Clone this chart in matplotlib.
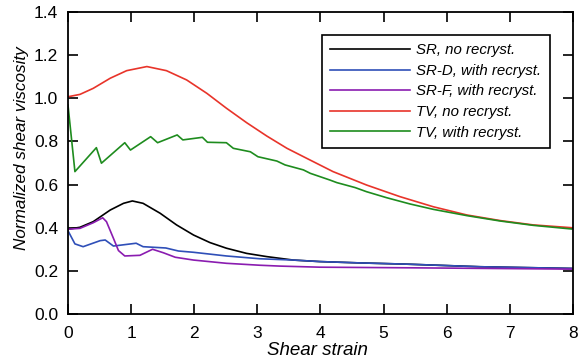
import matplotlib
matplotlib.use("Agg")
import matplotlib.pyplot as plt
import numpy as np

plt.rcParams['font.family'] = ['Liberation Sans', 'DejaVu Sans']

sr_x = [0, 0.19, 0.40, 0.67, 0.88, 1.02, 1.19, 1.46, 1.72, 1.99, 2.25, 2.51, 2.83, 3.15, 3.57, 3.99, 4.6, 5.37, 6.53, 8.0]
sr_y = [0.393, 0.402, 0.428, 0.482, 0.513, 0.524, 0.513, 0.467, 0.413, 0.366, 0.331, 0.305, 0.281, 0.266, 0.25, 0.243, 0.237, 0.231, 0.219, 0.211]

srd_x = [0, 0.11, 0.24, 0.51, 0.59, 0.72, 1.08, 1.19, 1.55, 1.75, 1.99, 2.51, 3.04, 3.57, 3.99, 4.6, 5.37, 6.53, 8.0]
srd_y = [0.386, 0.325, 0.312, 0.34, 0.343, 0.315, 0.328, 0.312, 0.306, 0.292, 0.286, 0.269, 0.256, 0.25, 0.243, 0.237, 0.231, 0.219, 0.211]

srf_x = [0, 0.19, 0.40, 0.55, 0.61, 0.72, 0.80, 0.90, 1.14, 1.34, 1.51, 1.70, 1.99, 2.51, 3.04, 3.36, 3.99, 5.47, 8.0]
srf_y = [0.393, 0.397, 0.423, 0.446, 0.428, 0.351, 0.294, 0.269, 0.272, 0.30, 0.284, 0.263, 0.25, 0.235, 0.226, 0.222, 0.217, 0.214, 0.208]

tv_x = [0, 0.19, 0.40, 0.67, 0.93, 1.25, 1.56, 1.88, 2.20, 2.51, 2.83, 3.15, 3.47, 3.78, 4.2, 4.73, 5.26, 5.79, 6.32, 6.85, 7.37, 7.98]
tv_y = [1.007, 1.018, 1.046, 1.093, 1.128, 1.147, 1.128, 1.085, 1.023, 0.954, 0.887, 0.825, 0.768, 0.722, 0.66, 0.598, 0.544, 0.497, 0.459, 0.433, 0.413, 0.40]

tvr_x = [0, 0.11, 0.45, 0.53, 0.90, 0.99, 1.31, 1.42, 1.73, 1.82, 2.13, 2.21, 2.51, 2.62, 2.89, 3.01, 3.31, 3.44, 3.73, 3.84, 4.15, 4.26, 4.55, 4.73, 5.05, 5.42, 5.79, 6.32, 6.85, 7.37, 7.98]
tvr_y = [0.969, 0.66, 0.771, 0.699, 0.794, 0.76, 0.822, 0.794, 0.83, 0.807, 0.819, 0.796, 0.794, 0.768, 0.752, 0.729, 0.709, 0.691, 0.668, 0.652, 0.621, 0.609, 0.586, 0.567, 0.539, 0.51, 0.485, 0.456, 0.431, 0.411, 0.394]

labels = ['SR, no recryst.', 'SR-D, with recryst.', 'SR-F, with recryst.', 'TV, no recryst.', 'TV, with recryst.']
colors = ['#000000', '#2f4fb8', '#8a1cb0', '#e8342a', '#1e8c1e']

fig = plt.figure(figsize=(5.81, 3.63), dpi=100)
ax = fig.add_axes([0.117, 0.135, 0.869, 0.832])

series = [(sr_x, sr_y), (srd_x, srd_y), (srf_x, srf_y), (tv_x, tv_y), (tvr_x, tvr_y)]
for (x, y), lab, c in zip(series, labels, colors):
    ax.plot(x, y, color=c, lw=1.2, label=lab, solid_joinstyle='round')

ax.set_xlim(0, 8)
ax.set_ylim(0, 1.4)
ax.set_xticks(range(0, 9))
ax.set_yticks(np.arange(0, 1.41, 0.2))
ax.set_yticklabels(['0.0', '0.2', '0.4', '0.6', '0.8', '1.0', '1.2', '1.4'])
ax.tick_params(direction='in', length=7, width=1.2, top=True, right=True, labelsize=12.5)
ax.tick_params(axis='x', pad=9)
ax.tick_params(axis='y', pad=7)
for s in ax.spines.values():
    s.set_linewidth(1.3)

ax.set_xlabel('Shear strain', fontsize=13.5, style='italic')
ax.xaxis.set_label_coords(0.495, -0.093)
ax.set_ylabel('Normalized shear viscosity', fontsize=12.3, style='italic')
ax.yaxis.set_label_coords(-0.078, 0.548)

leg = ax.legend(loc='upper right', bbox_to_anchor=(0.954, 0.924), borderaxespad=0,
                prop={'style': 'italic', 'size': 10.8}, handlelength=5.3,
                frameon=True, fancybox=False, edgecolor='black', framealpha=1,
                borderpad=0.55, labelspacing=0.44, handletextpad=0.45)
leg.get_frame().set_linewidth(1.2)

fig.savefig('out.png', dpi=100)
